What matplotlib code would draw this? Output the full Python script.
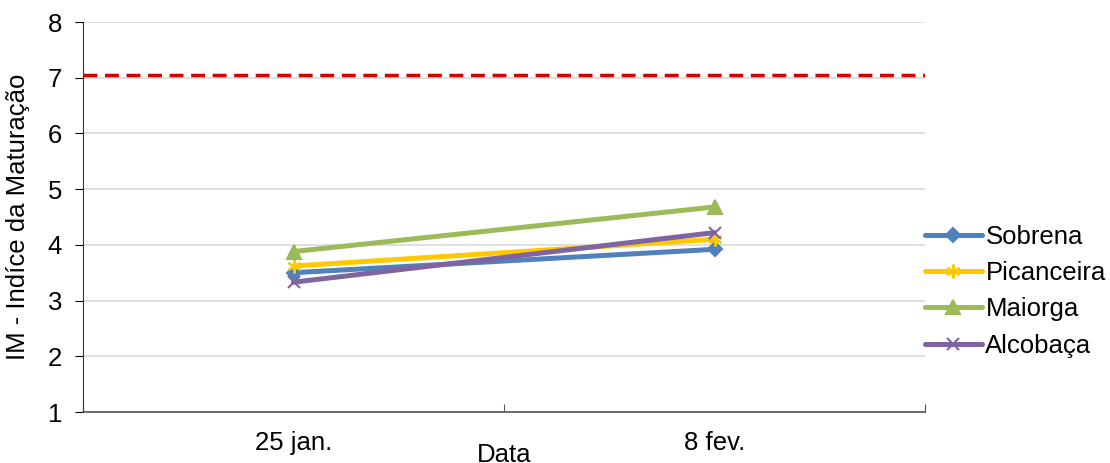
import matplotlib
matplotlib.use("Agg")
import matplotlib.pyplot as plt

plt.rcParams['font.family'] = ['Liberation Sans', 'DejaVu Sans']

dates = ["25 jan.", "8 fev."]
series_names = ["Sobrena", "Picanceira", "Maiorga", "Alcobaça"]
sobrena = [3.50, 3.92]
picanceira = [3.62, 4.10]
maiorga = [3.88, 4.68]
alcobaca = [3.33, 4.22]
threshold = 7.05
title_text = "Comparação entre pomares de pera"

values = [sobrena, picanceira, maiorga, alcobaca]
colors = ["#4F81BD", "#FFC800", "#9BBB59", "#8064A2"]
markers = ["D", (6, 2, 0), "^", "x"]
msizes = [7, 10, 10, 9]

FS = 18.5

fig = plt.figure(figsize=(11.10, 4.63), dpi=100)
ax = fig.add_axes([83/1110, 1-412/463, (925-83)/1110, (412-22)/463])

x = list(range(len(dates)))
for name, v, c, m, ms in zip(series_names, values, colors, markers, msizes):
    ax.plot(x, v, color=c, lw=3.6, marker=m, ms=ms, mew=1.5, mfc=c, mec=c,
            label=name, solid_capstyle='round', zorder=3)

ax.axhline(threshold, color="#D00000", lw=2.5, ls=(0, (4, 2.2)), zorder=4)

ax.set_xlim(-0.5, len(dates) - 0.5)
ax.set_ylim(1, 8)
ax.set_yticks(range(1, 9))
ax.yaxis.grid(True, color="#D9D9D9", lw=1.2)
ax.set_axisbelow(True)

ax.set_xticks([-0.5, 0.5, 1.5])
ax.set_xticklabels([])
ax.set_xticks(x, minor=True)
ax.set_xticklabels(dates, minor=True, fontsize=FS)
ax.tick_params(axis='x', which='minor', length=0, pad=14)
ax.tick_params(axis='x', which='major', length=6, direction='in', color="#555555")
ax.tick_params(axis='y', length=6, direction='out', labelsize=FS, pad=9)

for s in ['top', 'right']:
    ax.spines[s].set_visible(False)
ax.spines['left'].set_color("#333333")
ax.spines['bottom'].set_color("#555555")
ax.spines['bottom'].set_linewidth(1.2)

ax.set_ylabel("IM - Indíce da Maturação", fontsize=FS, labelpad=13)
ax.set_xlabel("Data", fontsize=FS)
ax.xaxis.set_label_coords(0.5, -0.08)

leg = ax.legend(loc='center left', bbox_to_anchor=(1.0, 0.31), frameon=False,
                fontsize=FS, handlelength=2.2, handletextpad=0.15, labelspacing=0.48,
                borderaxespad=0, borderpad=0)

fig.text(0.39, 1.0 + 13/463, title_text, fontsize=20, fontweight='bold',
         ha='center', va='baseline')

fig.savefig("out.png", dpi=100)
